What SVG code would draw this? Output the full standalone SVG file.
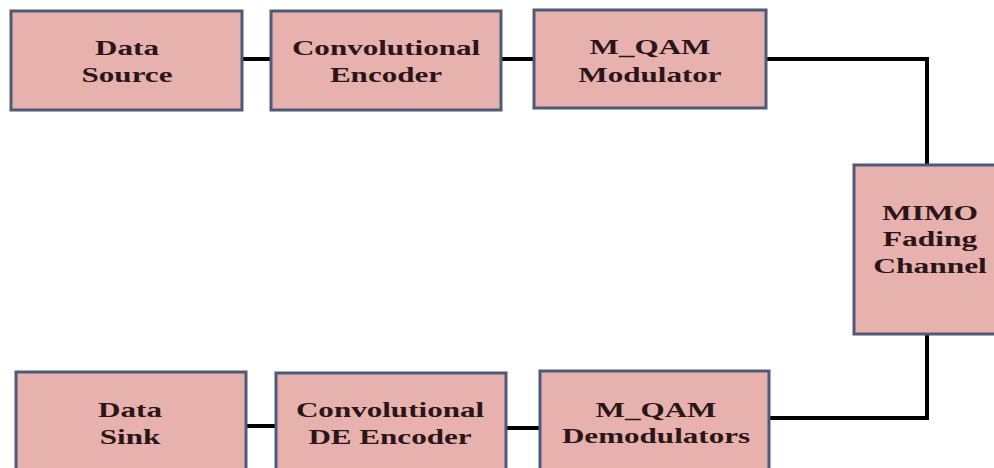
<svg xmlns="http://www.w3.org/2000/svg" width="994" height="468" viewBox="0 0 994 468">
  <style>
    .box { fill: #e7b1ae; stroke: #4d5b78; stroke-width: 3; }
    .lbl { font-family: "Liberation Serif", "Times New Roman", serif; font-weight: bold; font-size: 21px; fill: #2a1616; text-anchor: middle; }
    .wire { fill: none; stroke: #000; stroke-width: 4; }
  </style>
  <rect width="994" height="468" fill="#ffffff"/>

  <!-- connectors -->
  <g id="connectors">
    <line class="wire" x1="242" y1="59" x2="271" y2="59"/>
    <line class="wire" x1="501" y1="59" x2="534" y2="59"/>
    <polyline class="wire" points="766,59 927,59 927,165"/>
    <polyline class="wire" points="927,334 927,418 770,418"/>
    <line class="wire" x1="246" y1="426" x2="276" y2="426"/>
    <line class="wire" x1="506" y1="428" x2="540" y2="428"/>
  </g>

  <g id="data-source">
    <rect class="box" x="11" y="11" width="231" height="99"/>
    <g transform="translate(127,0) scale(1.48,1)">
      <text class="lbl" x="0" y="55">Data</text>
      <text class="lbl" x="0" y="82">Source</text>
    </g>
  </g>

  <g id="conv-encoder">
    <rect class="box" x="271" y="11" width="230" height="99"/>
    <g transform="translate(386,0) scale(1.48,1)">
      <text class="lbl" x="0" y="55">Convolutional</text>
      <text class="lbl" x="0" y="82">Encoder</text>
    </g>
  </g>

  <g id="qam-modulator">
    <rect class="box" x="534" y="10" width="232" height="98"/>
    <g transform="translate(650,0) scale(1.48,1)">
      <text class="lbl" x="0" y="54">M_QAM</text>
      <text class="lbl" x="0" y="82">Modulator</text>
    </g>
  </g>

  <g id="mimo-channel">
    <rect class="box" x="854" y="165" width="146" height="169"/>
    <g transform="translate(930,0) scale(1.5,1)">
      <text class="lbl" x="0" y="220">MIMO</text>
      <text class="lbl" x="0" y="246">Fading</text>
      <text class="lbl" x="0" y="273">Channel</text>
    </g>
  </g>

  <g id="qam-demodulators">
    <rect class="box" x="540" y="371" width="229" height="110"/>
    <g transform="translate(656,0) scale(1.48,1)">
      <text class="lbl" x="0" y="417">M_QAM</text>
      <text class="lbl" x="0" y="443">Demodulators</text>
    </g>
  </g>

  <g id="conv-de-encoder">
    <rect class="box" x="276" y="373" width="230" height="110"/>
    <g transform="translate(390,0) scale(1.48,1)">
      <text class="lbl" x="0" y="417">Convolutional</text>
      <text class="lbl" x="0" y="444">DE Encoder</text>
    </g>
  </g>

  <g id="data-sink">
    <rect class="box" x="16" y="372" width="230" height="110"/>
    <g transform="translate(130,0) scale(1.48,1)">
      <text class="lbl" x="0" y="417">Data</text>
      <text class="lbl" x="0" y="444">Sink</text>
    </g>
  </g>
</svg>
